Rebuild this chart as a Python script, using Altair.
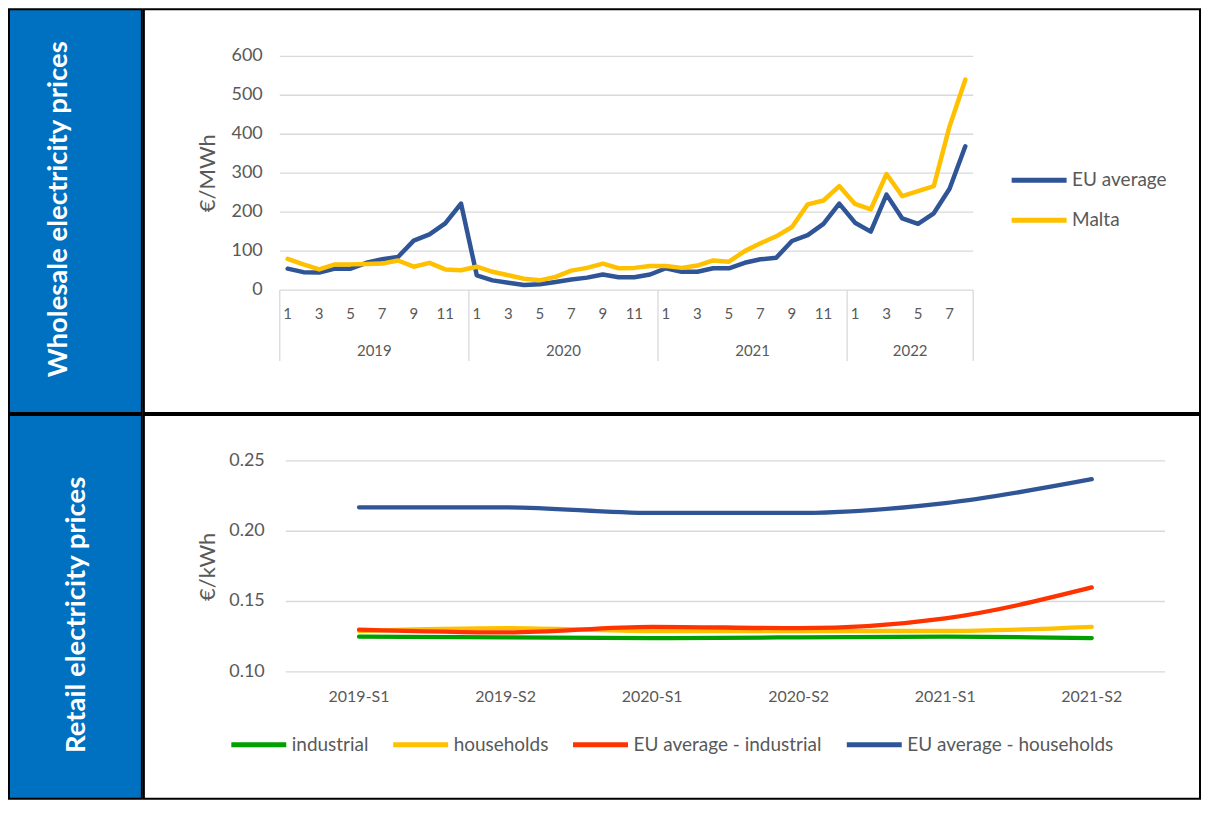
import altair as alt
import pandas as pd

# ---------------- data ----------------
years = [2019] * 12 + [2020] * 12 + [2021] * 12 + [2022] * 8
months = list(range(1, 13)) * 3 + list(range(1, 9))
eu_wholesale = [55, 46, 45, 55, 55, 70, 79, 85, 127, 143, 171, 222,
                38, 25, 19, 13, 15, 21, 27, 32, 40, 33, 33, 40,
                56, 47, 47, 56, 56, 70, 79, 83, 126, 141, 170, 222,
                173, 150, 245, 184, 170, 197, 260, 369]
malta_wholesale = [80, 66, 53, 66, 66, 67, 68, 76, 60, 70, 53, 51,
                   60, 47, 38, 29, 25, 34, 50, 57, 68, 56, 57, 62,
                   62, 57, 63, 76, 73, 100, 120, 138, 162, 220, 230, 267,
                   221, 207, 298, 241, 254, 267, 420, 540]
wholesale_series = ["EU average", "Malta"]
wholesale_ticks = [0, 100, 200, 300, 400, 500, 600]

periods = ["2019-S1", "2019-S2", "2020-S1", "2020-S2", "2021-S1", "2021-S2"]
industrial = [0.125, 0.1245, 0.124, 0.1245, 0.125, 0.124]
households = [0.129, 0.131, 0.129, 0.129, 0.129, 0.132]
eu_industrial = [0.130, 0.128, 0.132, 0.131, 0.138, 0.160]
eu_households = [0.217, 0.217, 0.213, 0.213, 0.220, 0.237]
retail_series = ["industrial", "households", "EU average - industrial", "EU average - households"]
retail_ticks = [0.10, 0.15, 0.20, 0.25]

row_titles = ["Wholesale electricity prices", "Retail electricity prices"]

# ---------------- style ----------------
FONT = "Lato"
GRID = "#D9D9D9"
TXT = "#595959"
BLUE = "#2F5597"
YELLOW = "#FFC000"
GREEN = "#00A000"
RED = "#FF3300"
PANEL = "#0070C0"

LABEL_W = 133
CELL_W = 1057
ROW1_H = 404
ROW2_H = 384

cell_view = alt.ViewBackground(fill="white", stroke="black", strokeWidth=2)
panel_view = alt.ViewBackground(fill=PANEL, stroke="black", strokeWidth=2)


def label_panel(text, h, cx, cy):
    return alt.Chart(pd.DataFrame({"label": [text]})).mark_text(
        angle=270, font=FONT, fontSize=27.5, fontWeight="bold", color="white",
        align="center", baseline="middle"
    ).encode(
        x=alt.value(cx), y=alt.value(cy), text="label:N"
    ).properties(width=LABEL_W, height=h, view=panel_view)


# ---------------- top chart (wholesale) ----------------
n = len(years)
top_df = pd.DataFrame({
    "idx": list(range(n)) * 2,
    "year": years * 2,
    "month": months * 2,
    "value": eu_wholesale + malta_wholesale,
    "series": [s for s in wholesale_series for _ in range(n)],
})
months_df = pd.DataFrame({"idx": list(range(n)), "year": years, "month": months})
bounds = []
for i in range(n):
    if i == 0 or years[i] != years[i - 1]:
        bounds.append(i - 0.5)
bounds.append(n - 0.5)

xs1 = alt.Scale(domain=[-0.5, n - 0.5], range=[136, 830], nice=False, zero=False)
ys1 = alt.Scale(domain=[0, 600], range=[281, 47], nice=False, zero=False)

grid1 = alt.Chart(pd.DataFrame({"v": wholesale_ticks})).mark_rule(
    color=GRID, strokeWidth=1.3
).encode(
    x=alt.XDatum(-0.5, scale=xs1, axis=None),
    x2=alt.X2Datum(n - 0.5),
    y=alt.Y("v:Q", scale=ys1, axis=None),
)

sep1 = alt.Chart(pd.DataFrame({"b": bounds})).mark_rule(
    color=GRID, strokeWidth=1.3
).encode(
    x=alt.X("b:Q", scale=xs1, axis=None),
    y=alt.YDatum(0, scale=ys1, axis=None),
    y2=alt.value(352),
)

leg1 = alt.Legend(
    orient="none", legendX=1001, legendY=141, title=None, direction="vertical",
    symbolType="stroke", symbolSize=3025, symbolStrokeWidth=5,
    labelFont=FONT, labelFontSize=19, labelColor=TXT, labelOffset=3, rowPadding=-18,
    labelLimit=400,
)
color1 = alt.Color("series:N", scale=alt.Scale(domain=wholesale_series, range=[BLUE, YELLOW]), legend=leg1)

lines1 = [
    alt.Chart(top_df).transform_filter(alt.datum.series == s).mark_line(
        strokeWidth=4.5, strokeCap="round", strokeJoin="round"
    ).encode(
        x=alt.X("idx:Q", scale=xs1, axis=None),
        y=alt.Y("value:Q", scale=ys1, axis=None),
        color=color1,
    )
    for s in wholesale_series
]

ylab1 = alt.Chart(pd.DataFrame({"v": wholesale_ticks})).mark_text(
    align="right", baseline="middle", font=FONT, fontSize=18, color=TXT
).encode(
    y=alt.Y("v:Q", scale=ys1, axis=None), x=alt.value(119), text=alt.Text("v:Q", format="d")
)

mlab1 = alt.Chart(months_df).transform_filter("datum.month % 2 == 1").mark_text(
    align="center", baseline="middle", font=FONT, fontSize=15, color=TXT
).encode(
    x=alt.X("idx:Q", scale=xs1, axis=None), y=alt.value(305), text="month:N"
)

yrlab1 = alt.Chart(months_df).transform_aggregate(
    c="mean(idx)", groupby=["year"]
).mark_text(
    align="center", baseline="middle", font=FONT, fontSize=15, color=TXT
).encode(
    x=alt.X("c:Q", scale=xs1, axis=None), y=alt.value(342), text="year:N"
)

title1 = alt.Chart(pd.DataFrame({"t": ["€/MWh"]})).mark_text(
    angle=270, align="center", baseline="middle", font=FONT, fontSize=22, color=TXT
).encode(x=alt.value(64), y=alt.value(164), text="t:N")

cell1 = alt.layer(grid1, sep1, *lines1, ylab1, mlab1, yrlab1, title1).properties(
    width=CELL_W, height=ROW1_H, view=cell_view
)

# ---------------- bottom chart (retail) ----------------
m = len(periods)
ret_df = pd.DataFrame({
    "idx": list(range(m)) * 4,
    "period": periods * 4,
    "value": industrial + households + eu_industrial + eu_households,
    "series": [s for s in retail_series for _ in range(m)],
})
per_df = pd.DataFrame({"idx": list(range(m)), "period": periods})

xs2 = alt.Scale(domain=[-0.5, m - 0.5], range=[142, 1022], nice=False, zero=False)
ys2 = alt.Scale(domain=[0.10, 0.25], range=[257, 46], nice=False, zero=False)

grid2 = alt.Chart(pd.DataFrame({"v": retail_ticks})).mark_rule(
    color=GRID, strokeWidth=1.3
).encode(
    x=alt.XDatum(-0.5, scale=xs2, axis=None),
    x2=alt.X2Datum(m - 0.5),
    y=alt.Y("v:Q", scale=ys2, axis=None),
)

leg2 = alt.Legend(
    orient="none", legendX=220, legendY=300, title=None, direction="horizontal",
    symbolType="stroke", symbolSize=3025, symbolStrokeWidth=5,
    labelFont=FONT, labelFontSize=19, labelColor=TXT, labelOffset=3, columnPadding=14,
    labelLimit=400,
)
color2 = alt.Color("series:N", scale=alt.Scale(domain=retail_series, range=[GREEN, YELLOW, RED, BLUE]), legend=leg2)

lines2 = [
    alt.Chart(ret_df).transform_filter(alt.datum.series == s).mark_line(
        strokeWidth=4.3, strokeCap="round", strokeJoin="round", interpolate="monotone"
    ).encode(
        x=alt.X("idx:Q", scale=xs2, axis=None),
        y=alt.Y("value:Q", scale=ys2, axis=None),
        color=color2,
    )
    for s in retail_series
]

ylab2 = alt.Chart(pd.DataFrame({"v": retail_ticks})).mark_text(
    align="right", baseline="middle", font=FONT, fontSize=18, color=TXT
).encode(
    y=alt.Y("v:Q", scale=ys2, axis=None), x=alt.value(121), text=alt.Text("v:Q", format=".2f")
)

xlab2 = alt.Chart(per_df).mark_text(
    align="center", baseline="middle", font=FONT, fontSize=16, color=TXT
).encode(
    x=alt.X("idx:Q", scale=xs2, axis=None), y=alt.value(282), text="period:N"
)

title2 = alt.Chart(pd.DataFrame({"t": ["€/kWh"]})).mark_text(
    angle=270, align="center", baseline="middle", font=FONT, fontSize=22, color=TXT
).encode(x=alt.value(64), y=alt.value(152), text="t:N")

cell2 = alt.layer(grid2, *lines2, ylab2, xlab2, title2).properties(
    width=CELL_W, height=ROW2_H, view=cell_view
)

# ---------------- assemble ----------------
row1 = alt.hconcat(label_panel(row_titles[0], ROW1_H, 50, 200), cell1, spacing=0)
row2 = alt.hconcat(label_panel(row_titles[1], ROW2_H, 68, 200), cell2, spacing=0)

chart = alt.vconcat(row1, row2, spacing=0).resolve_scale(
    color="independent"
).properties(padding=0)

chart.save("out.html", embed_options={"renderer": "svg", "actions": False})
